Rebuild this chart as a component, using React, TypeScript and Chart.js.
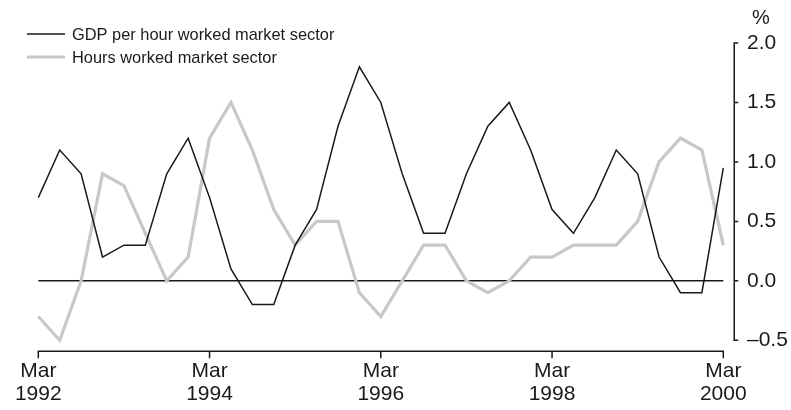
import React, { useEffect, useRef } from 'react';
import { Chart, registerables } from 'chart.js';

Chart.register(...registerables);

const quarters = [
  'Mar 1992', 'Jun 1992', 'Sep 1992', 'Dec 1992',
  'Mar 1993', 'Jun 1993', 'Sep 1993', 'Dec 1993',
  'Mar 1994', 'Jun 1994', 'Sep 1994', 'Dec 1994',
  'Mar 1995', 'Jun 1995', 'Sep 1995', 'Dec 1995',
  'Mar 1996', 'Jun 1996', 'Sep 1996', 'Dec 1996',
  'Mar 1997', 'Jun 1997', 'Sep 1997', 'Dec 1997',
  'Mar 1998', 'Jun 1998', 'Sep 1998', 'Dec 1998',
  'Mar 1999', 'Jun 1999', 'Sep 1999', 'Dec 1999',
  'Mar 2000',
];

const gdpPerHour = [
  0.7, 1.1, 0.9, 0.2, 0.3, 0.3, 0.9, 1.2,
  0.7, 0.1, -0.2, -0.2, 0.3, 0.6, 1.3, 1.8,
  1.5, 0.9, 0.4, 0.4, 0.9, 1.3, 1.5, 1.1,
  0.6, 0.4, 0.7, 1.1, 0.9, 0.2, -0.1, -0.1,
  0.95,
];

const hoursWorked = [
  -0.3, -0.5, 0.0, 0.9, 0.8, 0.4, 0.0, 0.2,
  1.2, 1.5, 1.1, 0.6, 0.3, 0.5, 0.5, -0.1,
  -0.3, 0.0, 0.3, 0.3, 0.0, -0.1, 0.0, 0.2,
  0.2, 0.3, 0.3, 0.3, 0.5, 1.0, 1.2, 1.1,
  0.3,
];

const seriesLabels = ['GDP per hour worked market sector', 'Hours worked market sector'];
const xTickEvery = 8;
const yTickValues = [-0.5, 0, 0.5, 1.0, 1.5, 2.0];
const yUnit = '%';

const FONT = '"Liberation Sans", Arial, sans-serif';
const INK = '#1a1a1a';
const GREY = '#c8c8c8';

const decorPlugin = {
  id: 'decor',
  beforeDatasetsDraw(chart: any) {
    const xs = chart.scales.x;
    const ys = chart.scales.y;
    const ctx = chart.ctx;
    ctx.save();
    ctx.strokeStyle = INK;
    ctx.lineWidth = 1.5;
    const y0 = ys.getPixelForValue(0);
    ctx.beginPath();
    ctx.moveTo(xs.getPixelForValue(0), y0);
    ctx.lineTo(xs.getPixelForValue(quarters.length - 1), y0);
    ctx.stroke();
    ctx.restore();
  },
  afterDraw(chart: any) {
    const xs = chart.scales.x;
    const ys = chart.scales.y;
    const ctx = chart.ctx;
    const area = chart.chartArea;
    ctx.save();
    ctx.strokeStyle = INK;
    ctx.lineWidth = 1.5;
    // x axis line
    const xb = Math.round(area.bottom) + 0.25;
    const xStart = xs.getPixelForValue(0);
    const xEnd = xs.getPixelForValue(quarters.length - 1);
    ctx.beginPath();
    ctx.moveTo(xStart - 0.75, xb);
    ctx.lineTo(xEnd + 0.75, xb);
    for (let i = 0; i < quarters.length; i += xTickEvery) {
      const px = xs.getPixelForValue(i);
      ctx.moveTo(px, xb);
      ctx.lineTo(px, xb + 7);
    }
    ctx.stroke();
    // y axis line
    const yx = Math.round(area.right) + 0.25;
    const yTop = ys.getPixelForValue(yTickValues[yTickValues.length - 1]);
    const yBot = ys.getPixelForValue(yTickValues[0]);
    ctx.beginPath();
    ctx.moveTo(yx, yTop - 0.75);
    ctx.lineTo(yx, yBot + 0.75);
    for (const v of yTickValues) {
      const py = ys.getPixelForValue(v);
      ctx.moveTo(yx, py);
      ctx.lineTo(yx + 4, py);
    }
    ctx.stroke();

    // unit label
    ctx.fillStyle = INK;
    ctx.font = `20px ${FONT}`;
    ctx.textAlign = 'center';
    ctx.textBaseline = 'middle';
    ctx.fillText(yUnit, 761, 18);

    // legend
    const ds = chart.data.datasets;
    const rows = [34, 57];
    ctx.font = `16.4px ${FONT}`;
    ctx.textAlign = 'left';
    ds.forEach((d: any, i: number) => {
      const ry = rows[i];
      ctx.strokeStyle = d.borderColor;
      ctx.lineWidth = d.borderWidth;
      ctx.beginPath();
      ctx.moveTo(27, ry);
      ctx.lineTo(65, ry);
      ctx.stroke();
      ctx.fillStyle = INK;
      ctx.fillText(d.label, 72, ry + 1);
    });
    ctx.restore();
  },
};

export default function App() {
  const ref = useRef<HTMLCanvasElement | null>(null);

  useEffect(() => {
    if (!ref.current) return;
    const chart = new Chart(ref.current, {
      type: 'line',
      data: {
        labels: quarters,
        datasets: [
          {
            label: seriesLabels[0],
            data: gdpPerHour,
            borderColor: INK,
            borderWidth: 1.5,
            pointRadius: 0,
            tension: 0,
            fill: false,
          },
          {
            label: seriesLabels[1],
            data: hoursWorked,
            borderColor: GREY,
            borderWidth: 3.2,
            pointRadius: 0,
            tension: 0,
            fill: false,
          },
        ],
      },
      options: {
        animation: false,
        responsive: false,
        layout: { padding: { left: 27.6, top: 43, right: 0, bottom: 0 } },
        plugins: {
          legend: { display: false },
          tooltip: { enabled: false },
        },
        scales: {
          x: {
            type: 'category',
            offset: true,
            grid: { display: false, drawTicks: false },
            border: { display: false },
            afterFit: (axis: any) => {
              axis.height = 59;
            },
            ticks: {
              autoSkip: false,
              maxRotation: 0,
              minRotation: 0,
              padding: 9,
              color: INK,
              font: { family: FONT, size: 21, lineHeight: 1.07 },
              callback: (_v: any, index: number) =>
                index % xTickEvery === 0 ? quarters[index].split(' ') : '',
            },
          },
          y: {
            type: 'linear',
            position: 'right',
            min: -0.59,
            max: 2.0,
            grid: { display: false, drawTicks: false },
            border: { display: false },
            afterFit: (axis: any) => {
              axis.width = 57;
            },
            afterBuildTicks: (axis: any) => {
              axis.ticks = yTickValues.map((v) => ({ value: v }));
            },
            ticks: {
              padding: 13,
              color: INK,
              font: { family: FONT, size: 21 },
              callback: (v: any) => {
                const n = Number(v);
                return (n < 0 ? '\u2013' : '') + Math.abs(n).toFixed(1);
              },
            },
          },
        },
      },
      plugins: [decorPlugin],
    });
    return () => chart.destroy();
  }, []);

  return (
    <div style={{ position: 'absolute', left: 0, top: 0, width: 791, height: 410, background: '#fff' }}>
      <canvas ref={ref} width={791} height={410} />
    </div>
  );
}
